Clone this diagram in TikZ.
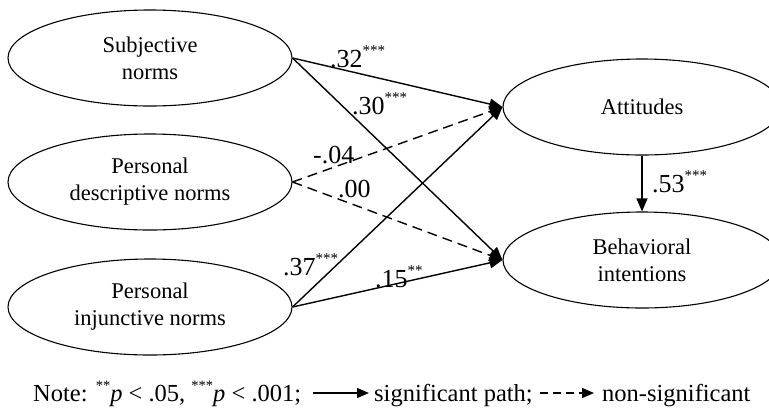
\documentclass[tikz,border=0pt]{standalone}
\usepackage{fontspec}
\setmainfont{Liberation Serif}
\usetikzlibrary{shapes.geometric,arrows.meta}
% significance stars, small and raised
\newcommand\stars[1]{\raisebox{12pt}{\fontsize{15}{15}\selectfont #1}}
\newcommand\notestars[1]{\raisebox{11pt}{\fontsize{14.5}{15}\selectfont #1}}
\begin{document}
\begin{tikzpicture}[x=1pt,y=-1pt,
  construct/.style={ellipse,draw,line width=1.1pt,inner sep=0pt,
    minimum width=284,minimum height=96,align=center,
    font=\fontsize{22.5}{27}\selectfont},
  path/.style={line width=1.4pt,-{Triangle[length=13pt,width=11pt]}},
  nspath/.style={path,dash pattern=on 10pt off 6pt},
  coef/.style={anchor=base west,inner sep=0pt,font=\fontsize{26}{28}\selectfont},
  legend/.style={anchor=base west,inner sep=0pt,font=\fontsize{24.5}{28}\selectfont},
  legarrow/.style={line width=1.4pt,-{Triangle[length=12pt,width=10pt]}}]
\clip (0,0) rectangle (769,408);

% predictors
\node[construct] (subj) at (150,58)  {Subjective\\norms};
\node[construct] (desc) at (150,182) {Personal\\descriptive norms};
\node[construct] (inj)  at (150,307) {Personal\\injunctive norms};
% outcomes
\node[construct,minimum width=278] (att) at (642,107) {Attitudes};
\node[construct,minimum width=278] (bi)  at (642,260) {Behavioral\\intentions};

% paths
\draw[path]   (subj.east) -- (att.west);
\draw[path]   (subj.east) -- (bi.west);
\draw[nspath] (desc.east) -- (att.west);
\draw[nspath] (desc.east) -- (bi.west);
\draw[path]   (inj.east)  -- (att.west);
\draw[path]   (inj.east)  -- (bi.west);
\draw[path]   (att.south) -- (bi.north);

% path coefficients
\node[coef] (c1) at (330,67)  {.32\stars{***}};
\node[coef] (c2) at (352,114) {.30\stars{***}};
\node[coef] (c3) at (313,163) {-.04};
\node[coef] (c4) at (338,197) {.00};
\node[coef] (c5) at (283,275) {.37\stars{***}};
\node[coef] (c6) at (375,287) {.15\stars{**}};
\node[coef] (c7) at (652,192) {.53\stars{***}};

% legend
\node[legend] (n1) at (33,401) {Note: \notestars{**}\textit{p} < .05, \notestars{***}\textit{p} < .001;};
\node[legend] (n2) at (374,401) {significant path;};
\node[legend] (n3) at (602,401) {non-significant};
\coordinate (a1) at (313,393);
\coordinate (a2) at (369,393);
\coordinate (b1) at (540,393);
\coordinate (b2) at (594,393);
\draw[legarrow] (a1) -- (a2);
\draw[legarrow,dash pattern=on 8pt off 5pt] (b1) -- (b2);
\end{tikzpicture}
\end{document}
